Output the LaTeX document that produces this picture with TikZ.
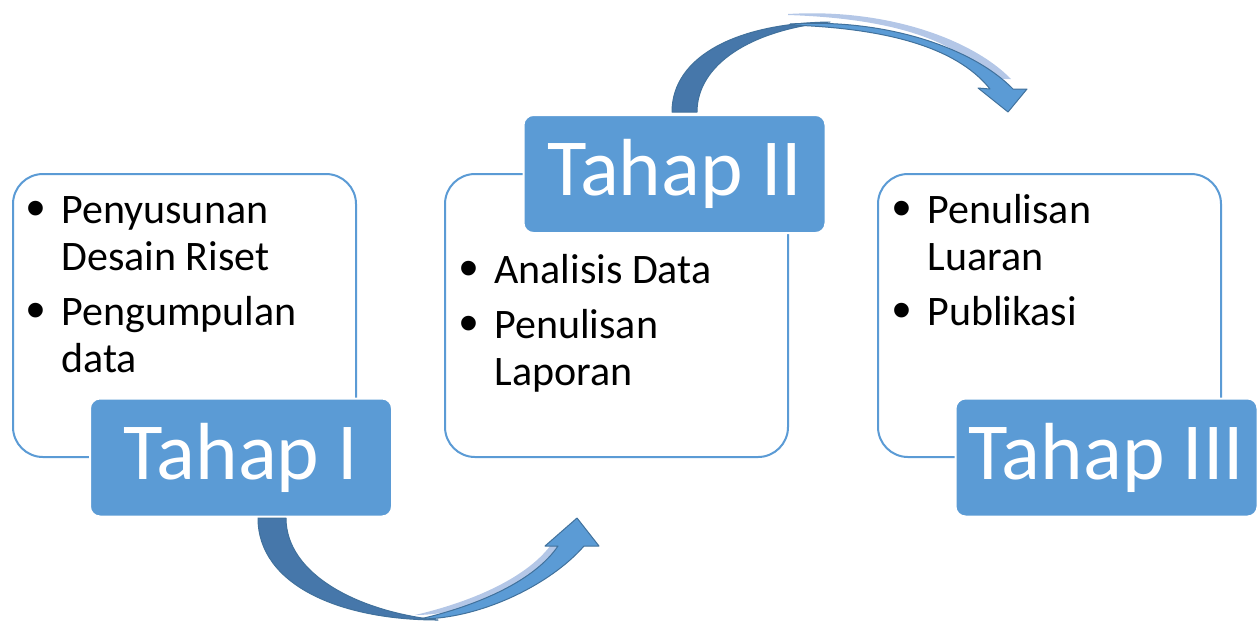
\documentclass[tikz,border=0pt]{standalone}
\usepackage{fontspec}
\setmainfont{Carlito}
\newfontfamily\bulletfont{Liberation Sans}
\definecolor{tahapblue}{HTML}{5B9BD5}
\definecolor{arrowdark}{HTML}{4677AA}
\definecolor{arrowline}{HTML}{41719C}
\definecolor{arrowglow}{HTML}{B4C7E7}
\newcommand{\bul}{\makebox[25pt]{\bulletfont\fontsize{27}{27}\selectfont\raisebox{-1.7pt}{\textbullet}}}

\tikzset{
  panel/.style={draw=tahapblue, line width=1pt, fill=white, rounded corners=15pt,
    minimum width=171.5pt, minimum height=141.5pt, inner sep=0pt},
  tahap/.style={draw=white, line width=1pt, fill=tahapblue, text=white, rounded corners=5pt,
    minimum width=151pt, minimum height=59pt, inner sep=0pt, font=\fontsize{40.5}{40.5}\selectfont},
  items/.style={anchor=base west, inner sep=0pt, font=\fontsize{21}{23.5}\selectfont},
  arrowback/.style={fill=arrowdark, draw=arrowline, line width=0.5pt, line join=round},
  arrowfront/.style={fill=tahapblue, draw=arrowline, line width=0.5pt, line join=round},
  arrowglowing/.style={fill=arrowglow}
}

\begin{document}
\begin{tikzpicture}[x=0.5pt, y=-0.5pt]
\useasboundingbox (0,0) rectangle (1257,623);

% panels
\node [panel] (box1) at (184.5,315.5) {};
\node [panel] (box2) at (616.5,315.5) {};
\node [panel] (box3) at (1049.5,315.5) {};

% bullet lists
\node [items] (list1) at (11,223) {\begin{tabular}[t]{@{}l@{}l@{}}
  \bul & Penyusunan\\ & Desain Riset\\[4pt]
  \bul & Pengumpulan\\ & data
\end{tabular}};
\node [items] (list2) at (444,283) {\begin{tabular}[t]{@{}l@{}l@{}}
  \bul & Analisis Data\\[4pt]
  \bul & Penulisan\\ & Laporan
\end{tabular}};
\node [items] (list3) at (877,223) {\begin{tabular}[t]{@{}l@{}l@{}}
  \bul & Penulisan\\ & Luaran\\[4pt]
  \bul & Publikasi
\end{tabular}};

% stage labels
\node [tahap] (lab1) at (241,457.5) {Tahap I};
\node [tahap] (lab2) at (674.5,174) {Tahap II};
\node [tahap] (lab3) at (1106.5,457.5) {Tahap III};

% arrow from Tahap I to Tahap II
\fill [arrowglowing, shift={(-5,-4)}] (420,619) .. controls (480,619) and (550,585) .. (584,546)
  -- (558,546) .. controls (535,580) and (480,605) .. (420,619) -- cycle;
\draw [arrowback] (258,518) .. controls (258,585) and (340,620) .. (438,620)
  .. controls (360,612) and (286,575) .. (286,518) -- cycle;
\draw [arrowfront] (420,619) .. controls (480,619) and (550,585) .. (584,546)
  -- (599,546) -- (577,518) -- (545,546) -- (558,546)
  .. controls (535,580) and (480,605) .. (420,619) -- cycle;

% arrow from Tahap II to Tahap III
\fill [arrowglowing, shift={(-2,-10)}] (790,24) .. controls (890,18) and (975,50) .. (1013,89)
  -- (990,89) .. controls (955,45) and (880,28) .. (790,25) -- cycle;
\draw [arrowback] (672,112) .. controls (672,55) and (740,23) .. (830,22)
  .. controls (750,30) and (697,65) .. (697,112) -- cycle;
\draw [arrowfront] (790,24) .. controls (890,18) and (975,50) .. (1013,89)
  -- (1027,89) -- (1008,112) -- (978,88) -- (990,89)
  .. controls (955,45) and (880,28) .. (790,25) -- cycle;
\end{tikzpicture}
\end{document}
